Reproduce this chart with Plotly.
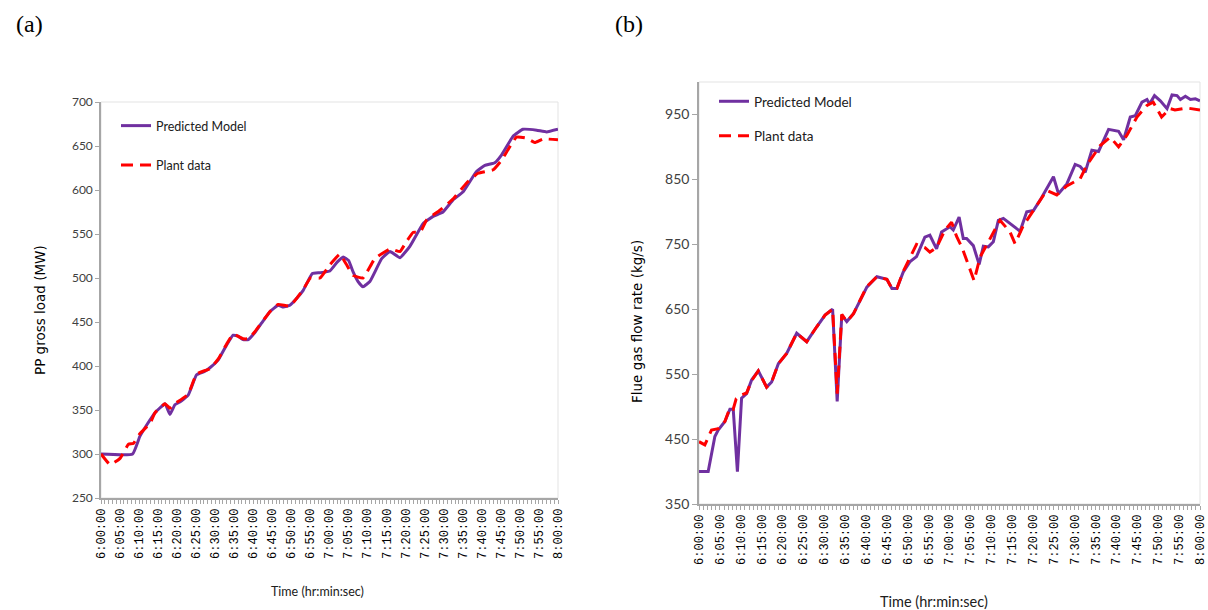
import plotly.graph_objects as go

# ---------------- data ----------------
# Time axis: minutes after 6:00:00 (0..120), labels every 5 minutes
tick_minutes = list(range(0, 121, 5))
tick_labels = ["6:00:00", "6:05:00", "6:10:00", "6:15:00", "6:20:00", "6:25:00", "6:30:00",
               "6:35:00", "6:40:00", "6:45:00", "6:50:00", "6:55:00", "7:00:00", "7:05:00",
               "7:10:00", "7:15:00", "7:20:00", "7:25:00", "7:30:00", "7:35:00", "7:40:00",
               "7:45:00", "7:50:00", "7:55:00", "8:00:00"]

# (a) PP gross load (MW)
a_pred_t = [0, 8.3, 10.2, 12, 14.2, 16.8, 18.1, 19.4, 20.7, 22.9, 25.1, 27.3, 28.6, 30.8, 33,
            34.7, 36, 37.3, 38.7, 40.4, 42.2, 44.4, 46.5, 47.9, 49.6, 51.4, 53.1, 55.5, 57.5,
            60.1, 62, 63.6, 65, 66.2, 67.5, 68.8, 70.6, 73.7, 75.9, 78.5, 81.1, 84.6, 87.2,
            89.8, 92.5, 95.1, 98.6, 100.8, 103.4, 105.2, 108.2, 110.8, 114.4, 117, 120]
a_pred_v = [300, 300, 320, 333, 347, 357, 345, 356, 359, 367, 390, 394, 398, 407, 424,
            435, 434, 430, 430, 438, 449, 462, 469, 467, 469, 477, 486, 505, 506,
            508, 518, 524, 520, 507, 496, 490, 496, 522, 530, 523, 536, 562, 570,
            575, 589, 598, 621, 628, 631, 640, 661, 669, 668, 666, 669]

a_plant_t = [0, 2.4, 5, 7.2, 8.5, 10.2, 12.9, 14.2, 16.8, 18.1, 19.4, 22.9, 25.1, 28.6, 30.8,
             33, 34.7, 37.3, 38.7, 40.4, 44.4, 46.5, 49.6, 51.4, 53.1, 55, 57.5, 60.1, 62.7,
             64.5, 66.2, 68.8, 71.9, 75.9, 78.5, 80, 82, 83.8, 85.5, 89, 92.5, 96, 99, 103,
             105.2, 109.1, 111.7, 113.9, 116.1, 120]
a_plant_v = [300, 288, 295, 311, 312, 323, 335, 347, 357, 352, 357, 368, 391, 397, 408,
             425, 436, 431, 431, 439, 462, 470, 468, 477, 487, 500, 500, 515, 527,
             515, 503, 500, 522, 533, 530, 540, 552, 552, 566, 577, 590, 608, 619, 623,
             634, 660, 659, 654, 658, 657]

# (b) Flue gas flow rate (kg/s)
b_pred_t = [0, 2.2, 3.8, 4.6, 6.2, 7.4, 8.2, 9.2, 10.2, 11.4, 12.6, 14.2, 16.2, 17.4, 19, 21,
            23.4, 25.8, 28.2, 30.2, 32, 33.1, 34.2, 35.4, 37, 38.6, 40.2, 42.6, 45, 46.2,
            47.4, 48.9, 50.5, 52.1, 54.1, 55.3, 56.9, 58.1, 60.1, 60.9, 62.3, 63.3, 64.1,
            65.7, 67.1, 68.1, 69.3, 70.5, 71.7, 72.9, 74.5, 76.9, 78.5, 80.1, 81.7, 83.3,
            84.9, 86.1, 88.1, 90.1, 91.3, 92.5, 94.1, 95.7, 98.1, 100.5, 101.7, 103.3,
            104.5, 106.1, 107.3, 107.9, 109.1, 110.5, 112.1, 113.3, 114.5, 115.3, 116.5,
            117.7, 118.9, 120]
b_pred_v = [400, 400, 454, 464, 477, 496, 496, 400, 513, 520, 541, 555, 530, 538, 566, 582,
            613, 600, 623, 641, 650, 508, 641, 631, 643, 664, 684, 700, 696, 682,
            682, 707, 723, 731, 761, 764, 743, 769, 777, 772, 792, 759, 759,
            748, 719, 747, 746, 754, 787, 790, 782, 770, 800, 802, 818, 836,
            854, 828, 843, 873, 870, 861, 895, 893, 927, 924, 911, 946,
            948, 969, 973, 966, 979, 971, 959, 980, 979, 973, 978,
            973, 974, 971]

b_plant_t = [0, 1.4, 3, 4.6, 6.2, 7.4, 8.2, 8.9, 10.2, 11.4, 12.6, 14.2, 16.2, 17.4, 19, 21,
             23.4, 25.8, 28.2, 30.2, 32, 33.1, 34.2, 35.4, 37, 38.6, 40.2, 42.6, 45, 46.2,
             47.4, 48.9, 50.5, 52.1, 54.1, 55.3, 56.9, 58.9, 60.5, 61.7, 63, 64.5, 65.9,
             67.3, 69.3, 72.1, 74.5, 75.7, 77.7, 80.1, 83.3, 85.7, 88.1, 91.3, 92.9, 96.1,
             98.5, 100.5, 102.5, 104.9, 107.3, 108.8, 110.8, 112.8, 114, 116.8, 118.4, 120]
b_plant_v = [446, 441, 464, 466, 477, 498, 496, 512, 518, 521, 540, 555, 530, 538, 566, 582,
             613, 600, 623, 641, 650, 520, 642, 631, 643, 664, 685, 700, 696, 682,
             682, 708, 730, 750, 745, 738, 745, 772, 784, 762, 745, 720, 694,
             730, 754, 787, 769, 751, 779, 802, 833, 826, 840, 851, 872, 902,
             915, 900, 918, 946, 964, 969, 946, 959, 957, 960, 958, 957]

# ---------------- styles ----------------
PURPLE = "#7030A0"
RED = "#FF0000"
SANS = "Lato, Carlito, Calibri, sans-serif"
MONO = "Liberation Mono, DejaVu Sans Mono, monospace"
TITLE_SANS = "DejaVu Sans, Verdana, sans-serif"
SERIF = "Liberation Serif, Times New Roman, serif"
AXIS_GRAY = "#a6a6a6"
DASH = "12px,7px"

fig = go.Figure()

fig.add_trace(go.Scatter(x=a_pred_t, y=a_pred_v, mode="lines", name="Predicted Model",
                         line=dict(color=PURPLE, width=3, shape="spline", smoothing=0.35),
                         xaxis="x", yaxis="y", legend="legend", legendgroup="a1"))
fig.add_trace(go.Scatter(x=a_plant_t, y=a_plant_v, mode="lines", name="Plant data",
                         line=dict(color=RED, width=3, dash=DASH, shape="spline", smoothing=0.35),
                         xaxis="x", yaxis="y", legend="legend", legendgroup="a2"))
fig.add_trace(go.Scatter(x=b_pred_t, y=b_pred_v, mode="lines", name="Predicted Model",
                         line=dict(color=PURPLE, width=3), xaxis="x2", yaxis="y2",
                         legend="legend2", legendgroup="b1"))
fig.add_trace(go.Scatter(x=b_plant_t, y=b_plant_v, mode="lines", name="Plant data",
                         line=dict(color=RED, width=3, dash=DASH), xaxis="x2", yaxis="y2",
                         legend="legend2", legendgroup="b2"))

W, H = 1208, 610


def px_x(p):
    return p / W


def px_y(p):
    return 1 - p / H


xa_dom = [px_x(101), px_x(558)]
ya_dom = [px_y(498), px_y(102)]
xb_dom = [px_x(699), px_x(1200)]
yb_dom = [px_y(504), px_y(82)]

common_x = dict(range=[0, 120], tickmode="array", tickvals=tick_minutes, ticktext=tick_labels,
                tickangle=-90, ticks="outside", ticklen=4, tickcolor=AXIS_GRAY, automargin=False,
                ticklabeloverflow="allow",
                showline=True, linecolor=AXIS_GRAY, linewidth=1.5, showgrid=False, zeroline=False,
                tickfont=dict(family=MONO, size=12, color="#000000"),
                minor=dict(dtick=1, tick0=0, ticks="outside", ticklen=4, tickcolor=AXIS_GRAY,
                           showgrid=False))

common_y = dict(ticks="outside", tickcolor=AXIS_GRAY, showline=True, automargin=False,
                linecolor=AXIS_GRAY, linewidth=1.5, showgrid=False, zeroline=False)


def label(text, x, y, size, family, color="#000", angle=0):
    return dict(text=text, x=px_x(x), y=px_y(y), xref="paper", yref="paper", showarrow=False,
                xanchor="center", yanchor="middle", textangle=angle,
                font=dict(family=family, size=size, color=color))


fig.update_layout(
    template="none",
    width=W, height=H, margin=dict(l=0, r=0, t=0, b=0, pad=0, autoexpand=False),
    paper_bgcolor="white", plot_bgcolor="white", showlegend=True,
    xaxis=dict(domain=xa_dom, anchor="y", **common_x),
    yaxis=dict(domain=ya_dom, anchor="x", range=[250, 700], dtick=50, tick0=250, ticklen=4,
               tickfont=dict(family=SANS, size=12, color="#404040"), **common_y),
    xaxis2=dict(domain=xb_dom, anchor="y2", **common_x),
    yaxis2=dict(domain=yb_dom, anchor="x2", range=[350, 1000],
                tickvals=[350, 450, 550, 650, 750, 850, 950], ticklen=5,
                tickfont=dict(family=SANS, size=14, color="#404040"), **common_y),
    legend=dict(x=px_x(116), y=px_y(111), xanchor="left", yanchor="top", borderwidth=0,
                bgcolor="rgba(0,0,0,0)", traceorder="grouped", tracegroupgap=20,
                font=dict(family=SANS, size=12.5, color="#202020")),
    legend2=dict(x=px_x(714), y=px_y(86), xanchor="left", yanchor="top", borderwidth=0,
                 bgcolor="rgba(0,0,0,0)", traceorder="grouped", tracegroupgap=14,
                 font=dict(family=SANS, size=13.5, color="#202020")),
    shapes=[
        dict(type="rect", xref="paper", yref="paper", x0=xa_dom[0], x1=xa_dom[1],
             y0=ya_dom[0], y1=ya_dom[1], line=dict(color="#e3e3e3", width=1), layer="below"),
        dict(type="rect", xref="paper", yref="paper", x0=xb_dom[0], x1=xb_dom[1],
             y0=yb_dom[0], y1=yb_dom[1], line=dict(color="#e3e3e3", width=1), layer="below"),
    ],
    annotations=[
        label("(a)", 29, 24, 24, SERIF),
        label("(b)", 629, 24, 24, SERIF),
        label("PP gross load (MW)", 40, 310, 13.5, TITLE_SANS, angle=-90),
        label("Flue gas flow rate (kg/s)", 637, 322, 13.5, TITLE_SANS, angle=-90),
        label("Time (hr:min:sec)", 317, 591, 12.5, SANS, "#202020"),
        label("Time (hr:min:sec)", 934, 601, 14.5, SANS, "#202020"),
    ],
)

fig.write_html("out.html")
